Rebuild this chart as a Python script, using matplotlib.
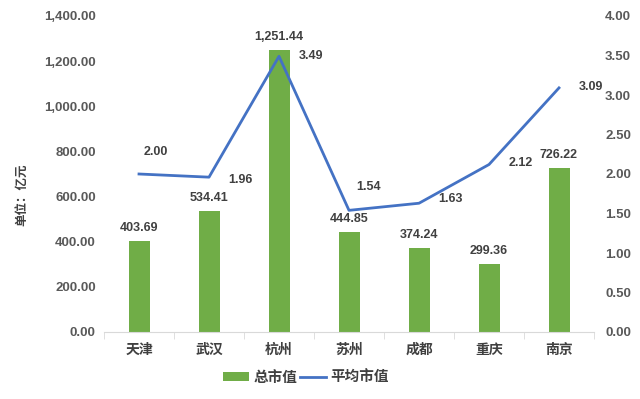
import matplotlib
matplotlib.use("Agg")
import matplotlib.pyplot as plt
from matplotlib.ticker import FuncFormatter, MultipleLocator
from matplotlib.patches import Patch
from matplotlib.lines import Line2D

plt.rcParams['font.family'] = ['Liberation Sans', 'Noto Sans CJK SC', 'DejaVu Sans']

cities = ['天津', '武汉', '杭州', '苏州', '成都', '重庆', '南京']
total_value = [403.69, 534.41, 1251.44, 444.85, 374.24, 299.36, 726.22]
avg_value = [2.00, 1.96, 3.49, 1.54, 1.63, 2.12, 3.09]
bar_name = '总市值'
line_name = '平均市值'
ylabel = '单位：亿元'

green = '#70AD47'
blue = '#4472C4'
txt = '#404040'

fig = plt.figure(figsize=(6.4, 3.99), dpi=100)
ax = fig.add_axes([104/640, 1-332/399, 490/640, 316/399])
ax2 = ax.twinx()

x = list(range(len(cities)))
ax.bar(x, total_value, width=0.3, color=green, zorder=2)
ax2.plot(x, avg_value, color=blue, lw=2.0, zorder=3)

ax.set_xlim(-0.5, len(cities) - 0.5)
ax.set_ylim(0, 1400)
ax2.set_ylim(0, 4)
ax.yaxis.set_major_locator(MultipleLocator(200))
ax2.yaxis.set_major_locator(MultipleLocator(0.5))
ax.yaxis.set_major_formatter(FuncFormatter(lambda v, p: f'{v:,.2f}'))
ax2.yaxis.set_major_formatter(FuncFormatter(lambda v, p: f'{v:.2f}'))

for a in (ax, ax2):
    for s in ('top', 'left', 'right', 'bottom'):
        a.spines[s].set_visible(False)
ax.spines['bottom'].set_visible(True)
ax.spines['bottom'].set_color('#D9D9D9')

ax.set_xticks(x)
ax.set_xticklabels(cities, fontsize=10, color=txt, fontweight='bold')
ax.tick_params(axis='x', length=0, pad=8)
ax.set_xticks([i - 0.5 for i in range(len(cities) + 1)], minor=True)
ax.tick_params(axis='x', which='minor', length=5, color='#D9D9D9')
ax.tick_params(axis='y', length=0, pad=6, labelsize=9.5, labelcolor='#595959')
ax2.tick_params(axis='y', length=0, pad=8, labelsize=9.5, labelcolor='#595959')
for lab in ax.get_yticklabels() + ax2.get_yticklabels():
    lab.set_fontweight('bold')

for xi, v in zip(x, total_value):
    ax.annotate(f'{v:,.2f}', (xi, v), xytext=(0, 5), textcoords='offset points',
                ha='center', va='bottom', fontsize=9, fontweight='bold', color=txt)

offsets = [(12, 16), (14, -2), (14, 0), (14, 17), (14, 3), (14, 1), (14, 1)]
for xi, v, off in zip(x, avg_value, offsets):
    ax2.annotate(f'{v:.2f}', (xi, v), xytext=off, textcoords='offset points',
                 ha='center' if off[1] > 10 else 'left', va='center',
                 fontsize=9, fontweight='bold', color=txt)

fig.text(22/640, 1-195/399, ylabel, rotation=90, ha='center', va='center',
         fontsize=9, color=txt, fontweight='bold')

handles = [Patch(facecolor=green, label=bar_name),
           Line2D([0], [0], color=blue, lw=2, label=line_name)]
fig.legend(handles=handles, loc='center', bbox_to_anchor=(0.478, 1-378/399), ncol=2,
           frameon=False, handlelength=1.8, handleheight=0.6, handletextpad=0.3,
           columnspacing=0.2, prop={'weight': 'bold', 'size': 10.5})
for t in fig.legends[0].get_texts():
    t.set_color(txt)

fig.savefig('out.png', dpi=100)
